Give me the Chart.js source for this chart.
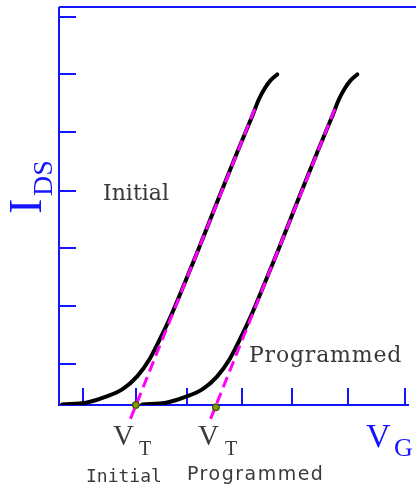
<!DOCTYPE html>
<html>
<head>
<meta charset="utf-8">
<script src="https://cdn.jsdelivr.net/npm/chart.js@4/dist/chart.umd.min.js"></script>
<style>
  html, body { margin: 0; padding: 0; background: #fff; }
  #wrap { position: relative; width: 416px; height: 492px; overflow: hidden; }
  #wrap canvas { position: absolute; left: 0; top: 0; }
  .lbl { position: absolute; white-space: nowrap; line-height: 1; }
  .serif { font-family: "Liberation Serif", serif; color: #1414ff; }
  .note { font-family: "DejaVu Serif", serif; font-size: 22px; color: #383838; }
  .vt { font-family: "Liberation Serif", serif; color: #3a3a3a; }
  .mono { font-family: "DejaVu Sans Mono", monospace; color: #3a3a3a; font-size: 18px; }
  .sans { font-family: "DejaVu Sans", sans-serif; color: #3a3a3a; font-size: 19px; }
  .rot { transform-origin: 0 0; transform: rotate(-90deg); }
</style>
</head>
<body>
<div id="wrap">
  <canvas id="grafico" width="416" height="492"></canvas>

  <div class="lbl serif rot" style="left:3px; top:214px; font-size:46px;">I</div>
  <div class="lbl serif rot" style="left:29px; top:196px; font-size:28px;">DS</div>

  <div class="lbl note" style="left:103px; top:182px;">Initial</div>
  <div class="lbl note" style="left:249px; top:344px; letter-spacing:0.8px;">Programmed</div>

  <div class="lbl vt" style="left:113px; top:421px; font-size:29px;">V</div>
  <div class="lbl vt" style="left:139px; top:438px; font-size:20px;">T</div>
  <div class="lbl mono" style="left:86px; top:467px;">Initial</div>

  <div class="lbl vt" style="left:198px; top:421px; font-size:29px;">V</div>
  <div class="lbl vt" style="left:225px; top:438px; font-size:20px;">T</div>
  <div class="lbl sans" style="left:187px; top:464px; letter-spacing:1.5px;">Programmed</div>

  <div class="lbl serif" style="left:366px; top:419px; font-size:34px;">V</div>
  <div class="lbl serif" style="left:394px; top:435px; font-size:26px;">G</div>
</div>

<script>
// axis ticks (gate voltage, drain current)
const xTicks = [0.44, 1.43, 2.39, 3.41, 4.34, 5.37, 6.44];
const yTicks = [0.71, 1.71, 2.72, 3.70, 4.72, 5.73, 6.71];

// transfer curves I_DS(V_G)
const initialV = [0.06, 0.50, 0.86, 1.19, 1.45, 1.69, 1.91, 2.11, 2.29, 2.59, 2.95, 3.32, 3.60, 3.72, 3.83, 3.94, 4.06];
const initialI = [0.01, 0.04, 0.14, 0.28, 0.49, 0.80, 1.20, 1.60, 2.00, 2.68, 3.53, 4.38, 5.01, 5.29, 5.48, 5.62, 5.72];
const programmedV = [1.55, 1.99, 2.35, 2.68, 2.94, 3.18, 3.40, 3.60, 3.78, 4.08, 4.44, 4.81, 5.09, 5.21, 5.32, 5.43, 5.55];
const programmedI = [0.01, 0.04, 0.14, 0.28, 0.49, 0.80, 1.20, 1.60, 2.00, 2.68, 3.53, 4.38, 5.01, 5.29, 5.48, 5.62, 5.72];

// linear extrapolation down to the threshold
const tangentInitialV = [1.33, 3.65];
const tangentInitialI = [-0.24, 5.14];
const tangentProgrammedV = [2.82, 5.14];
const tangentProgrammedI = [-0.24, 5.14];

// threshold voltages
const thresholdV = [1.43, 2.92];
const thresholdI = [0, -0.04];

const pts = (xs, ys) => xs.map((x, i) => ({ x: x, y: ys[i] }));

const axisColor = '#1414ff';

// blue frame with inward tick marks
const eixos = {
  id: 'eixos',
  beforeDatasetsDraw(chart) {
    const { ctx, chartArea, scales } = chart;
    const { left, right, top, bottom } = chartArea;
    ctx.save();
    ctx.strokeStyle = axisColor;
    ctx.lineWidth = 2;
    ctx.beginPath();
    ctx.moveTo(left, top);
    ctx.lineTo(chart.width, top);
    ctx.moveTo(left, top);
    ctx.lineTo(left, bottom);
    ctx.lineTo(right - 2, bottom);
    yTicks.forEach(v => {
      const py = Math.round(scales.y.getPixelForValue(v));
      ctx.moveTo(left, py);
      ctx.lineTo(left + 17, py);
    });
    xTicks.forEach(v => {
      const px = Math.round(scales.x.getPixelForValue(v));
      ctx.moveTo(px, bottom);
      ctx.lineTo(px, bottom - 17);
    });
    ctx.stroke();
    ctx.restore();
  }
};

const curva = (data) => ({
  data: data,
  showLine: true,
  borderColor: '#000',
  borderWidth: 4,
  borderCapStyle: 'round',
  cubicInterpolationMode: 'monotone',
  pointRadius: 0,
  order: 3
});

const tangente = (data) => ({
  data: data,
  showLine: true,
  borderColor: '#ff00ff',
  borderWidth: 3,
  borderDash: [11, 6],
  pointRadius: 0,
  clip: false,
  order: 2
});

new Chart(document.getElementById('grafico').getContext('2d'), {
  type: 'scatter',
  data: {
    datasets: [
      curva(pts(initialV, initialI)),
      curva(pts(programmedV, programmedI)),
      tangente(pts(tangentInitialV, tangentInitialI)),
      tangente(pts(tangentProgrammedV, tangentProgrammedI)),
      {
        data: pts(thresholdV, thresholdI),
        pointRadius: 3.5,
        pointBackgroundColor: '#7a9a00',
        pointBorderColor: '#2b3300',
        pointBorderWidth: 1,
        clip: false,
        order: 1
      }
    ]
  },
  options: {
    responsive: false,
    animation: false,
    devicePixelRatio: 1,
    layout: { padding: { left: 59, right: 0, top: 7, bottom: 87 } },
    scales: {
      x: { type: 'linear', min: 0, max: 6.55, display: false },
      y: { type: 'linear', min: 0, max: 6.886, display: false }
    },
    plugins: {
      legend: { display: false },
      tooltip: { enabled: false }
    }
  },
  plugins: [eixos]
});
</script>
</body>
</html>
